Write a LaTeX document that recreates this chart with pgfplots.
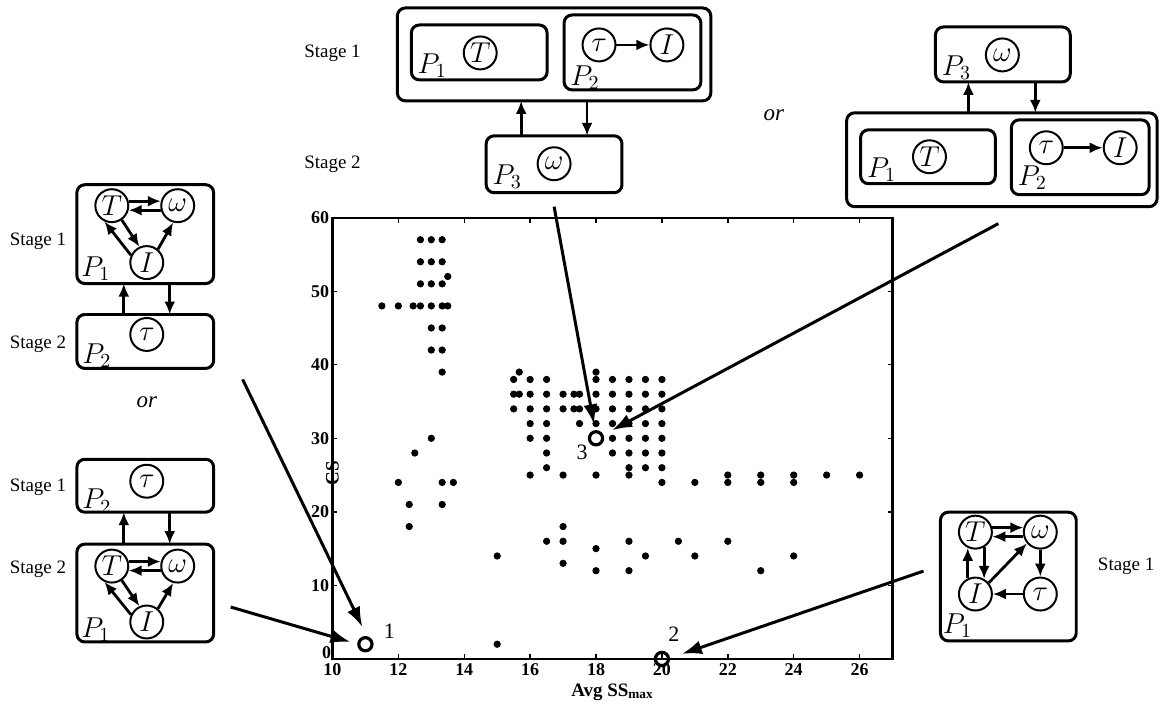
\documentclass[border=0pt]{standalone}
\usepackage{fontspec}
\setmainfont{Liberation Serif}
\usepackage{pgfplots}
\pgfplotsset{compat=1.18}
\usetikzlibrary{arrows.meta}

\begin{document}
\begin{tikzpicture}[
  st/.style={circle, draw, line width=1pt, minimum size=16.5pt, inner sep=0pt, font=\fontsize{14}{14}\selectfont},
  bx/.style={line width=1.5pt, rounded corners=4pt},
  arr/.style={line width=1.4pt, -{Latex[length=6.5pt,width=5.5pt]}},
  big/.style={line width=1.5pt, -{Latex[length=10pt,width=7pt]}},
  lab/.style={font=\fontsize{14}{14}\selectfont},
  stg/.style={font=\fontsize{9.5}{9.5}\selectfont}
]
\begin{scope}[x=0.5pt,y=-0.5pt]
\useasboundingbox (0,0) rectangle (1161,704);
\end{scope}

\begin{axis}[
  at={(166.5pt,-330pt)}, anchor=south west,
  scale only axis, width=280.5pt, height=221pt,
  xmin=10, xmax=27, ymin=0, ymax=60,
  xtick={10,12,...,26}, ytick={10,20,...,60},
  extra y ticks={0},
  extra y tick style={yticklabel style={yshift=3pt, xshift=1pt}},
  tick align=inside, major tick length=2.5pt,
  axis line style={line width=1.1pt},
  every tick/.style={black, line width=0.7pt},
  clip=false,
  /pgf/number format/assume math mode=true,
  ticklabel style={font=\bfseries\fontsize{9}{9}\selectfont},
  xticklabel style={inner sep=1.5pt, yshift=-0.5pt},
  yticklabel style={inner sep=1.5pt},
  xlabel={\bfseries Avg SS\textsubscript{max}},
  ylabel={\bfseries CS},
  label style={font=\fontsize{9.5}{9.5}\selectfont},
  xlabel style={at={(axis description cs:0.5,0)}, anchor=base, yshift=-19pt},
  ylabel style={at={(axis description cs:0,0.5)}, anchor=center, xshift=-17.5pt},
]
\addplot[only marks, mark=*, mark size=1.6pt, black] coordinates {
(11.5,48) (12,48) (12.45,48) (12.67,48) (13,48) (13.33,48) (13.5,48)
(12.67,57) (13,57) (13.33,57)
(12.67,54) (13,54) (13.33,54)
(13.5,52)
(12.67,51) (13,51) (13.33,51)
(13,45) (13.33,45)
(13,42) (13.33,42)
(13.33,39)
(13,30) (12.5,28)
(12,24) (13.33,24) (13.67,24)
(12.33,21) (13.33,21)
(12.33,18)
(15,14) (15,2)
(15.67,39) (18,39)
(15.5,38) (16,38) (16.5,38) (18,38) (18.5,38) (19,38) (19.5,38) (20,38)
(15.5,36) (15.67,36) (16,36) (16.5,36) (17,36) (17.33,36) (17.5,36) (18,36) (18.5,36) (19,36) (19.5,36) (20,36)
(15.5,34) (16,34) (16.5,34) (17,34) (17.33,34) (17.5,34) (18,34) (18.5,34) (19,34) (19.5,34) (20,34)
(16,32) (16.5,32) (17.5,32) (18,32) (18.5,32) (19,32) (19.5,32) (20,32)
(16,30) (16.5,30) (18.5,30) (19,30) (19.5,30) (20,30)
(16.5,28) (18.5,28) (19,28) (19.5,28) (20,28)
(16.5,26) (19,26) (19.5,26) (20,26)
(16,25) (17,25) (18,25) (19,25) (22,25) (23,25) (24,25) (25,25) (26,25)
(20,24) (21,24) (22,24) (23,24) (24,24)
(17,18)
(16.5,16) (17,16) (19,16) (20.5,16) (22,16)
(18,15)
(19.5,14) (21,14) (24,14)
(17,13)
(18,12) (19,12) (23,12)
};
\addplot[only marks, mark=o, mark size=3.3pt, black, mark options={line width=1.6pt}] coordinates {
(11,2) (20,0) (18,30)
};
\node[font=\fontsize{11}{11}\selectfont] at (axis cs:11.73,3.8) {1};
\node[font=\fontsize{11}{11}\selectfont] at (axis cs:20.36,3.4) {2};
\node[font=\fontsize{11}{11}\selectfont] at (axis cs:17.58,28.1) {3};
\end{axis}

\begin{scope}[x=0.5pt,y=-0.5pt]
% ---------- top centre diagram ----------
\node[stg] at (333,53) {Stage 1};
\node[stg] at (333,165) {Stage 2};
\draw[bx] (398,8) rectangle (712,101);
\draw[bx] (412,25) rectangle (548,80);
\node[st] at (481,53) {$T$};
\node[lab] at (433,66) {$P_1$};
\draw[bx] (565,15) rectangle (702,90);
\node[st] (a1) at (600,45) {$\tau$};
\node[st] (a2) at (668,45) {$I$};
\draw[arr] (a1) -- (a2);
\node[lab] at (586,78) {$P_2$};
\draw[arr] (522,136) -- (522,101);
\draw[arr] (588,101) -- (588,136);
\draw[bx] (487,136) rectangle (623,193);
\node[st] at (555,164) {$\omega$};
\node[lab] at (508,177) {$P_3$};

% ---------- top right diagram ----------
\node[font=\itshape\fontsize{11.5}{11.5}\selectfont] at (775,115) {or};
\draw[bx] (937,27) rectangle (1072,82);
\node[st] at (1004,55) {$\omega$};
\node[lab] at (958,68) {$P_3$};
\draw[arr] (970,113) -- (970,82);
\draw[arr] (1037,82) -- (1037,113);
\draw[bx] (848,113) rectangle (1159,207);
\draw[bx] (862,130) rectangle (997,184);
\node[st] at (931,157) {$T$};
\node[lab] at (883,170) {$P_1$};
\draw[bx] (1013,120) rectangle (1151,195);
\node[st] (b1) at (1048,148) {$\tau$};
\node[st] (b2) at (1122,148) {$I$};
\draw[arr] (b1) -- (b2);
\node[lab] at (1034,178) {$P_2$};

% ---------- left diagrams ----------
\node[stg] at (38,242) {Stage 1};
\node[stg] at (38,345) {Stage 2};
\draw[bx] (77,185) rectangle (214,284);
\node[st] (lT) at (112,206) {$T$};
\node[st] (lW) at (178,206) {$\omega$};
\node[st] (lI) at (147,263) {$I$};
\node[lab] at (96,269) {$P_1$};
\draw[arr] (lT.15) -- (lW.165);
\draw[arr] (lW.195) -- (lT.-15);
\draw[arr] (lI.155) -- (lT.245);
\draw[arr] (lT.-55) -- (lI.115);
\draw[arr] (lI.50) -- (lW.255);
\draw[arr] (124,315) -- (124,284);
\draw[arr] (170,284) -- (170,315);
\draw[bx] (77,315) rectangle (214,369);
\node[st] at (147,335) {$\tau$};
\node[lab] at (97,356) {$P_2$};

\node[font=\itshape\fontsize{11.5}{11.5}\selectfont] at (147,403) {or};

\node[stg] at (38,488) {Stage 1};
\node[stg] at (38,570) {Stage 2};
\draw[bx] (77,460) rectangle (214,513);
\node[st] at (147,482) {$\tau$};
\node[lab] at (97,502) {$P_2$};
\draw[arr] (124,545) -- (124,513);
\draw[arr] (170,513) -- (170,545);
\draw[bx] (77,545) rectangle (214,643);
\node[st] (mT) at (112,567) {$T$};
\node[st] (mW) at (178,567) {$\omega$};
\node[st] (mI) at (147,623) {$I$};
\node[lab] at (96,631) {$P_1$};
\draw[arr] (mT.15) -- (mW.165);
\draw[arr] (mW.195) -- (mT.-15);
\draw[arr] (mI.155) -- (mT.245);
\draw[arr] (mT.-55) -- (mI.115);
\draw[arr] (mI.50) -- (mW.255);

% ---------- bottom right diagram ----------
\node[stg] at (1128,567) {Stage 1};
\draw[bx] (942,513) rectangle (1078,642);
\node[st] (rT) at (977,533) {$T$};
\node[st] (rW) at (1042,533) {$\omega$};
\node[st] (rI) at (977,595) {$I$};
\node[st] (rt) at (1042,595) {$\tau$};
\node[lab] at (959,627) {$P_1$};
\draw[arr] (rT.15) -- (rW.165);
\draw[arr] (rW.195) -- (rT.-15);
\draw[arr] (rI.116) -- (rT.244);
\draw[arr] (rT.-60) -- (rI.60);
\draw[arr] (rI.40) -- (rW.220);
\draw[arr] (rW.270) -- (rt.90);
\draw[arr] (rt.180) -- (rI.0);

% ---------- long arrows ----------
\draw[big] (243,380) -- (363,628);
\draw[big] (231,608) -- (351,643);
\draw[big] (555,207) -- (595,425);
\draw[big] (1000,224) -- (613,431);
\draw[big] (925,572) -- (683,655);
\end{scope}
\end{tikzpicture}
\end{document}
